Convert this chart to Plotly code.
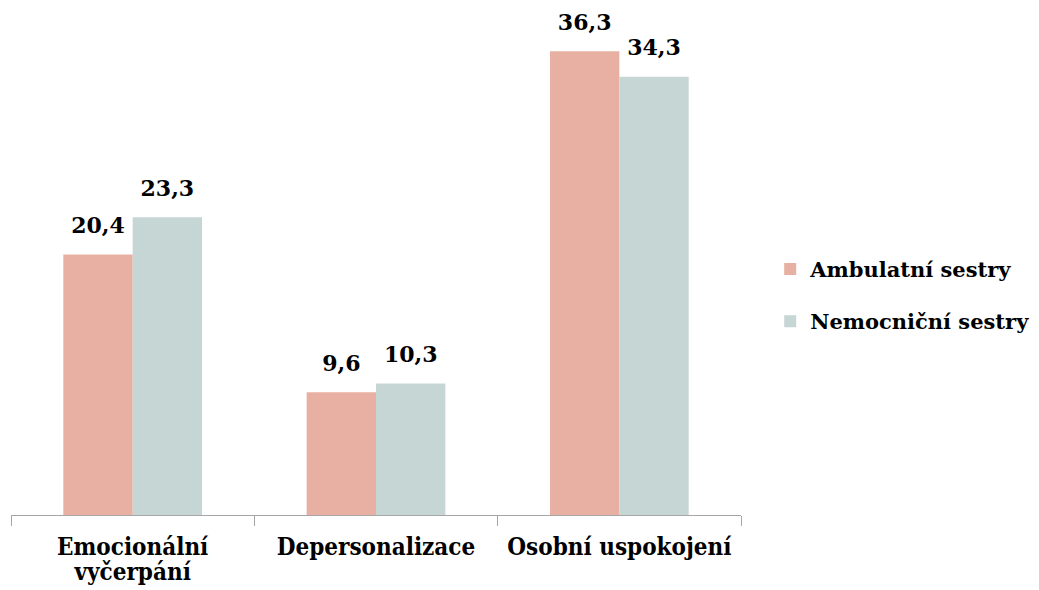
import plotly.graph_objects as go

categories = ["Emocionální<br>vyčerpání", "Depersonalizace", "Osobní uspokojení"]
ambulatni = [20.4, 9.6, 36.3]
nemocnicni = [23.3, 10.3, 34.3]
series_names = ["Ambulatní sestry", "Nemocniční sestry"]
colors = ["#E8B0A2", "#C5D6D5"]

label_font = dict(family="DejaVu Serif", size=12, color="#000000")

fig = go.Figure()
for name, vals, col in zip(series_names, [ambulatni, nemocnicni], colors):
    fig.add_trace(go.Bar(
        x=categories, y=vals, name="<b>" + name + "</b>", legendgroup=name,
        marker=dict(color=col, line=dict(width=0)),
        texttemplate="<span style='font-size:22px'><b>%{y:.1f}</b></span><br> ",
        textposition="outside",
        textfont=label_font, cliponaxis=False,
    ))

tick_text = ["<span style='font-size:24px'><b>" + c.replace("<br>", "</b></span><br><span style='font-size:24px'><b>") + "</b></span>"
             for c in categories]

fig.update_layout(
    width=1039, height=590,
    margin=dict(l=11, r=298, t=4, b=75, autoexpand=False),
    paper_bgcolor="white", plot_bgcolor="white",
    separators=", ",
    barmode="group", bargap=0.43, bargroupgap=0,
    showlegend=True,
    legend=dict(x=1.04, y=0.43, xanchor="left", yanchor="middle",
                font=dict(family="DejaVu Serif", size=21, color="#000000"),
                traceorder="grouped", tracegroupgap=22),
    xaxis=dict(showline=True, linecolor="#A6A6A6", linewidth=1.3,
               ticks="outside", tickson="boundaries", ticklen=10,
               tickcolor="#A6A6A6", tickwidth=1.3, automargin=False,
               ticklabelstandoff=16,
               tickvals=categories, ticktext=tick_text,
               tickfont=dict(family="DejaVu Serif Condensed", size=19, color="#000000"),
               showgrid=False),
    yaxis=dict(range=[0, 40], visible=False, showgrid=False, automargin=False),
)
fig.write_html("out.html", post_script="document.body.style.margin='0';",
               config={"displayModeBar": False})
